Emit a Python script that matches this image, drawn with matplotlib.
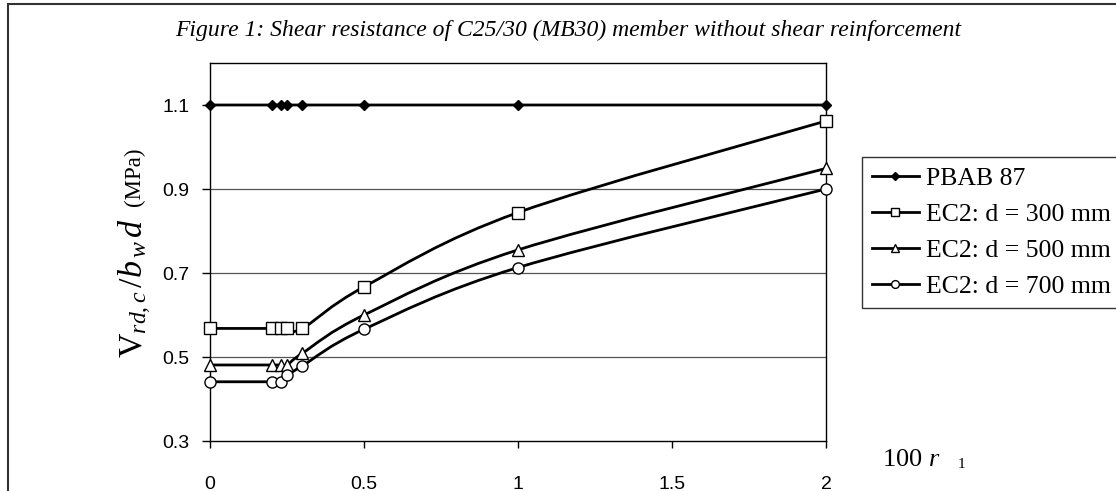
import matplotlib as mpl
mpl.use('Agg')
import matplotlib.pyplot as plt
from matplotlib.path import Path
from matplotlib.patches import PathPatch, Rectangle
from matplotlib.lines import Line2D

# data
rho = [0, 0.2, 0.23, 0.25, 0.3, 0.5, 1, 2]
pbab87 = [1.1, 1.1, 1.1, 1.1, 1.1, 1.1, 1.1, 1.1]
ec2_300 = [0.568, 0.568, 0.568, 0.568, 0.568, 0.667, 0.844, 1.062]
ec2_500 = [0.481, 0.481, 0.481, 0.481, 0.509, 0.600, 0.755, 0.949]
ec2_700 = [0.441, 0.441, 0.441, 0.456, 0.479, 0.566, 0.713, 0.900]
labels = ['PBAB 87', 'EC2: d = 300 mm', 'EC2: d = 500 mm', 'EC2: d = 700 mm']
yticks = [0.3, 0.5, 0.7, 0.9, 1.1]
xticks = [0, 0.5, 1, 1.5, 2]

plt.rcParams['mathtext.fontset'] = 'custom'
plt.rcParams['mathtext.rm'] = 'Liberation Serif'
plt.rcParams['mathtext.it'] = 'Liberation Serif:italic'
plt.rcParams['mathtext.bf'] = 'Liberation Serif:bold'


def smooth_path(x, y):
    # excel-like smoothed line: catmull-rom segments as cubic bezier
    verts = [(x[0], y[0])]
    codes = [Path.MOVETO]
    n = len(x)
    for i in range(n - 1):
        a = i - 1 if i > 0 else i
        b = i + 2 if i + 2 < n else i + 1
        c1 = (x[i] + (x[i+1] - x[a]) / 6, y[i] + (y[i+1] - y[a]) / 6)
        c2 = (x[i+1] - (x[b] - x[i]) / 6, y[i+1] - (y[b] - y[i]) / 6)
        verts += [c1, c2, (x[i+1], y[i+1])]
        codes += [Path.CURVE4] * 3
    return Path(verts, codes)


fig = plt.figure(figsize=(11.16, 4.91), dpi=100)
ax = fig.add_axes([210/1116, 1-441/491, 616/1116, 378/491])

# outer chart border (cropped on right/bottom)
fig.patches.append(Rectangle((8/1116, -0.2), 1.2, 1.2 - 4/491, transform=fig.transFigure,
                             fill=False, edgecolor='#333333', linewidth=1.5))

ax.set_xlim(0, 2)
ax.set_ylim(0.3, 1.2)
for yv in [0.5, 0.7, 0.9]:
    ax.axhline(yv, color='#555555', linewidth=0.9, zorder=1)

styles = [
    dict(marker='D', mfc='black', ms=5.5),
    dict(marker='s', mfc='white', ms=8),
    dict(marker='^', mfc='white', ms=8),
    dict(marker='o', mfc='white', ms=8),
]
series = [pbab87, ec2_300, ec2_500, ec2_700]
handles = []
for vals, st, lab in zip(series, styles, labels):
    ax.add_patch(PathPatch(smooth_path(rho, vals), fill=False, edgecolor='black',
                           linewidth=2, zorder=3))
    ax.plot(rho, vals, linestyle='none', color='black', mec='black', mew=1,
            clip_on=False, zorder=4, **st)
    hs = dict(st)
    hs['ms'] = st['ms'] * 0.7
    handles.append(Line2D([], [], color='black', linewidth=2, mec='black', mew=1, **hs))

ax.set_yticks(yticks)
ax.set_yticklabels(['%.1f' % v for v in yticks])
ax.set_xticks(xticks)
ax.set_xticklabels(['0', '0.5', '1', '1.5', '2'])
ax.tick_params(axis='y', direction='out', length=6, width=1, pad=9,
               labelsize=14, labelfontfamily='Liberation Sans')
ax.tick_params(axis='x', direction='out', length=5, width=1, pad=20,
               labelsize=14, labelfontfamily='Liberation Sans')
for s in ax.spines.values():
    s.set_linewidth(1)

fig.text(568/1116, 1-30/491,
         'Figure 1: Shear resistance of C25/30 (MB30) member without shear reinforcement',
         ha='center', va='center', fontsize=17, style='italic', family='Liberation Serif')

# y label: math part larger than the unit
fig.text(135/1116, 1-358/491, r'$\mathrm{V}_{rd,c}\,/b_{\,w}\,d$',
         rotation=90, ha='center', va='bottom', fontsize=24.5, family='Liberation Serif')
fig.text(134/1116, 1-148/491, '(MPa)',
         rotation=90, ha='center', va='top', fontsize=16.5, family='Liberation Serif')

fig.text(882/1116, 1-460/491, r'100 $\mathit{r}$', ha='left', va='center',
         fontsize=19, family='Liberation Serif')
fig.text(958/1116, 1-465/491, '1', ha='left', va='center',
         fontsize=11, family='Liberation Serif')

leg = ax.legend(handles, labels, loc='upper left', bbox_to_anchor=(862/1116, 1-157/491),
                bbox_transform=fig.transFigure, frameon=True, fancybox=False,
                edgecolor='black', handlelength=1.8, handletextpad=0.3,
                borderpad=0.4, borderaxespad=0, labelspacing=0.5,
                prop={'family': 'Liberation Serif', 'size': 18.5})
leg.get_frame().set_linewidth(1)

plt.savefig('out.png', dpi=100)
